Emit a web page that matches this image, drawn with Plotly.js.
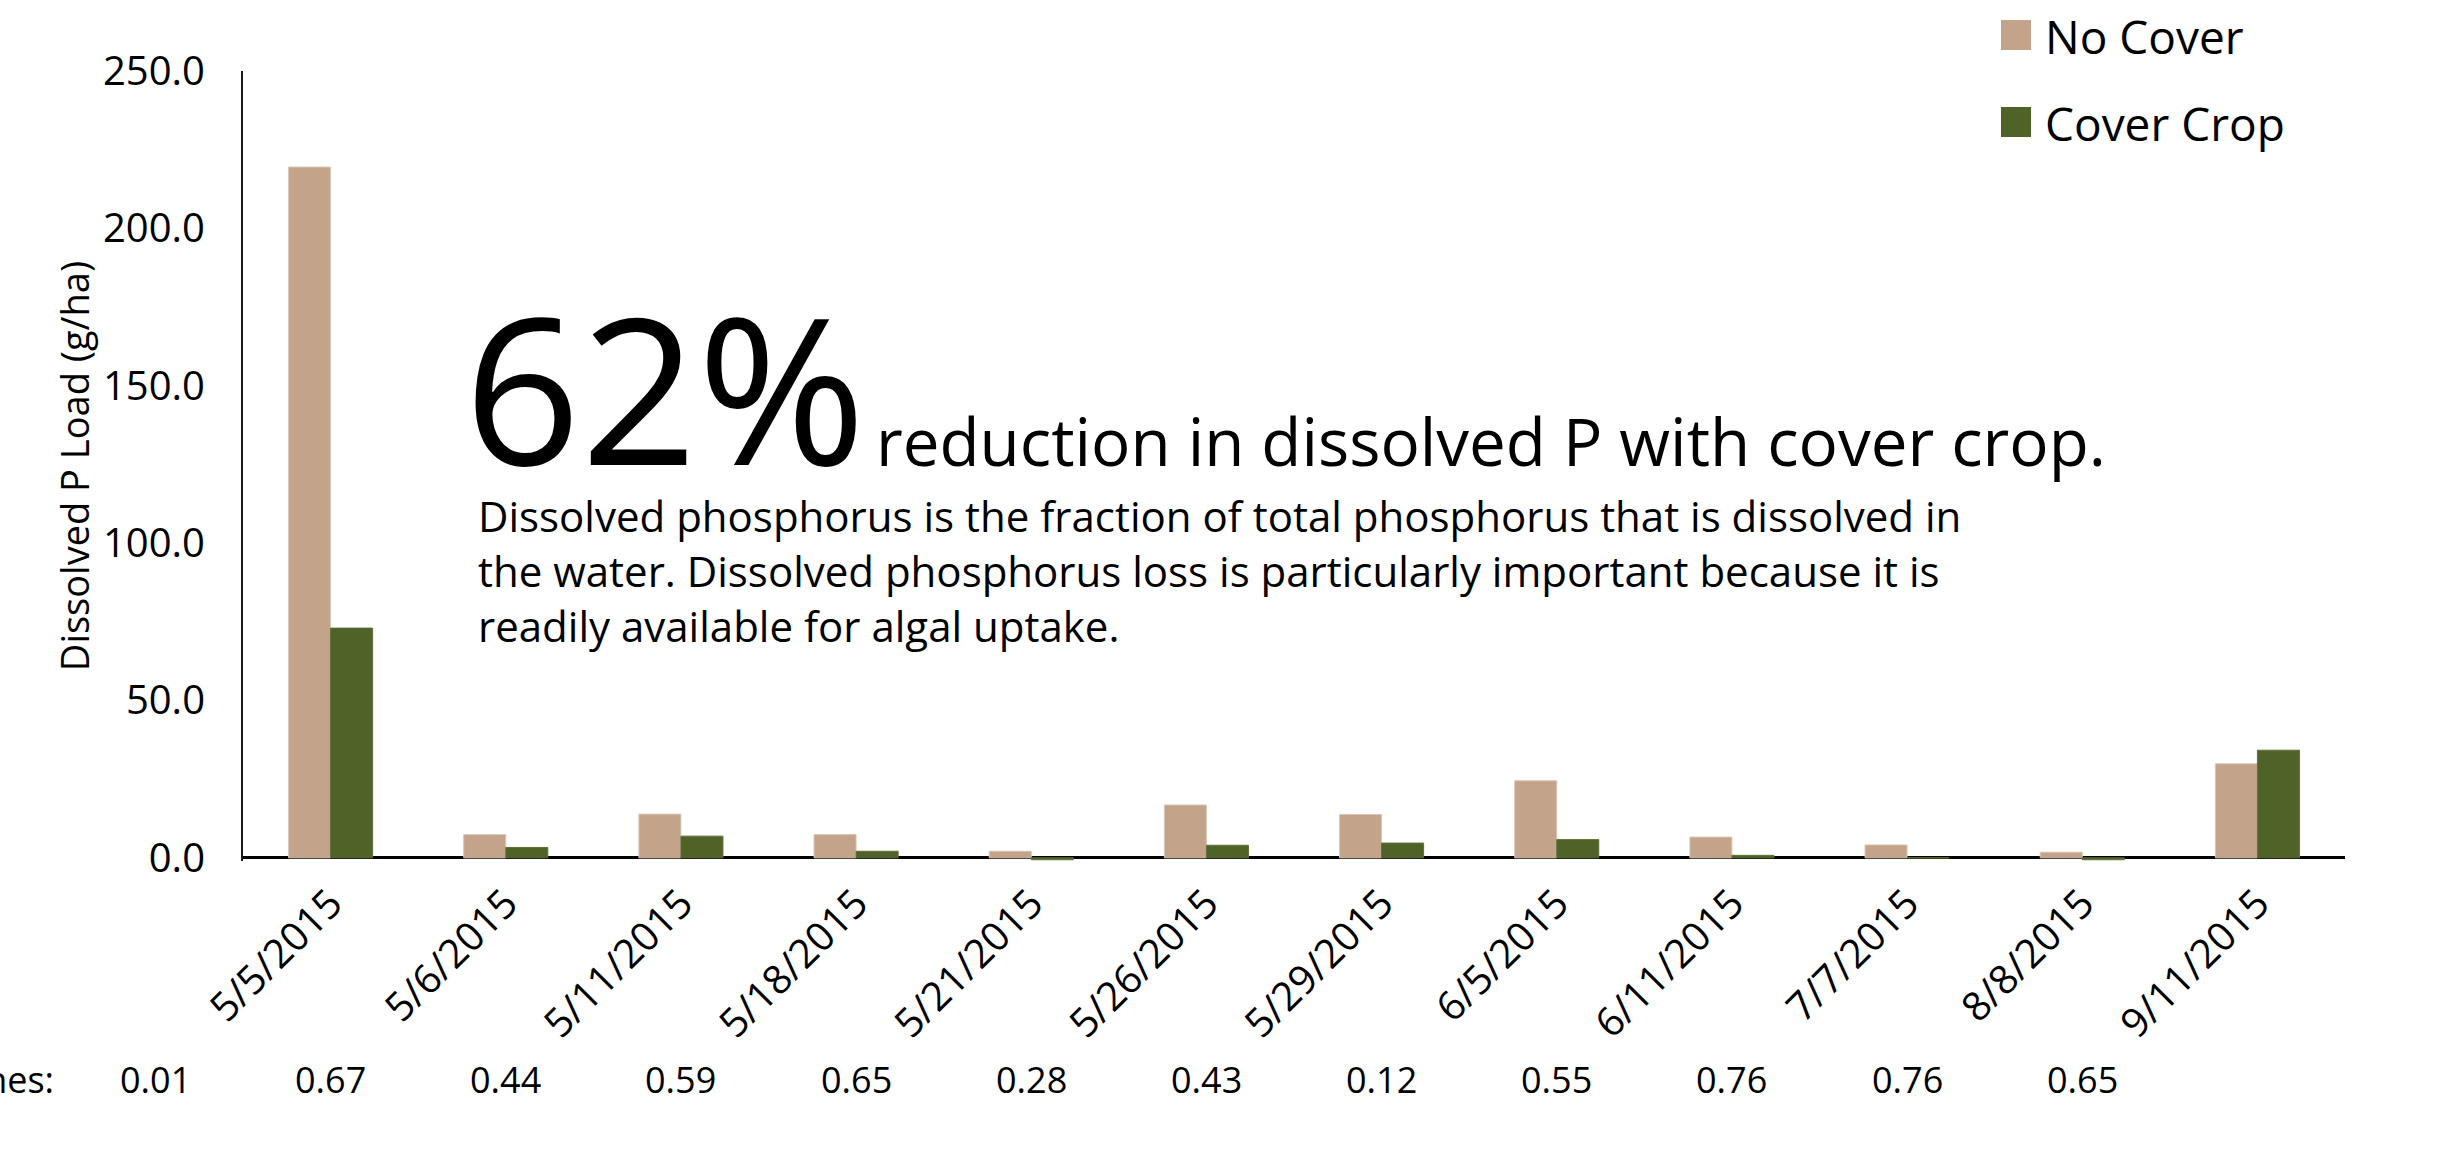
<!DOCTYPE html>
<html>
<head>
<meta charset="utf-8">
<script src="https://cdn.plot.ly/plotly-3.0.1.min.js"></script>
<style>
  html, body { margin: 0; padding: 0; background: #ffffff; }
  #chart { width: 2459px; height: 1150px; }
</style>
</head>
<body>
<div id="chart"></div>
<script>
// Storm event dates
const eventDates = ['5/5/2015', '5/6/2015', '5/11/2015', '5/18/2015', '5/21/2015', '5/26/2015',
                    '5/29/2015', '6/5/2015', '6/11/2015', '7/7/2015', '8/8/2015', '9/11/2015'];

// Dissolved P load per event (g/ha)
const noCoverLoad   = [219.5, 7.4, 13.9, 7.4, 2.1, 16.8, 13.8, 24.5, 6.6, 4.1, 1.8, 29.9];
const coverCropLoad = [73.0, 3.3, 6.9, 2.1, -0.6, 4.0, 4.7, 5.8, 0.8, 0.0, -0.6, 34.2];

const seriesNames  = ['No Cover', 'Cover Crop'];
const seriesColors = ['#C3A48B', '#4F6228'];

// Event depths row printed under the dates (first value sits one slot left of the first date)
const depthLabel  = 'Rain inches:';
const depthValues = ['0.01', '0.67', '0.44', '0.59', '0.65', '0.28', '0.43', '0.12', '0.55', '0.76', '0.76', '0.65'];

const yTickValues = [0, 50, 100, 150, 200, 250];

const headline    = '62%';
const headlineSub = 'reduction in dissolved P with cover crop.';
const noteLines   = [
  'Dissolved phosphorus is the fraction of total phosphorus that is dissolved in',
  'the water. Dissolved phosphorus loss is particularly important because it is',
  'readily available for algal uptake.'
];

// ---- layout geometry (pixels) ----
const W = 2459, H = 1150;
const M = { l: 243, r: 114, t: 71, b: 289 };
const plotW = W - M.l - M.r, plotH = H - M.t - M.b;
const px = x => (x - M.l) / plotW;          // page x -> paper x
const py = y => (H - M.b - y) / plotH;      // page y -> paper y
const nCat = eventDates.length;
const slotX = k => (k + 0.5) / nCat;        // category slot centre in paper x

const FONT = '"Open Sans", Lato, sans-serif';

const traces = [
  {
    type: 'bar', name: seriesNames[0], x: eventDates, y: noCoverLoad,
    marker: { color: seriesColors[0], line: { color: '#D9C6B6', width: 1 } },
    showlegend: false
  },
  {
    type: 'bar', name: seriesNames[1], x: eventDates, y: coverCropLoad,
    marker: { color: seriesColors[1], line: { color: '#5E7038', width: 1 } },
    showlegend: false
  }
];

const annotations = [];
const shapes = [];

// headline
annotations.push({
  xref: 'paper', yref: 'paper', x: px(462), y: py(386), xanchor: 'left', yanchor: 'middle',
  text: headline, showarrow: false, font: { family: FONT, size: 204, color: '#000' }
});
annotations.push({
  xref: 'paper', yref: 'paper', x: px(874), y: py(440), xanchor: 'left', yanchor: 'middle',
  text: headlineSub, showarrow: false, font: { family: FONT, size: 65.5, color: '#000' }
});
// explanatory note, one annotation per line
const noteBaselines = [530, 585, 640];
noteLines.forEach((line, i) => {
  annotations.push({
    xref: 'paper', yref: 'paper', x: px(476), y: py(noteBaselines[i] - 15), xanchor: 'left', yanchor: 'middle',
    text: line, showarrow: false, font: { family: FONT, size: 42, color: '#000' }
  });
});

// depth row
annotations.push({
  xref: 'paper', yref: 'paper', x: px(56), y: py(1079), xanchor: 'right', yanchor: 'middle',
  text: depthLabel, showarrow: false, font: { family: FONT, size: 36, color: '#000' }
});
depthValues.forEach((v, i) => {
  annotations.push({
    xref: 'paper', yref: 'paper', x: slotX(i - 1), y: py(1079), xanchor: 'center', yanchor: 'middle',
    text: v, showarrow: false, font: { family: FONT, size: 36, color: '#000' }
  });
});

// legend drawn as swatches + labels
const legendRows = [35, 122];
seriesNames.forEach((name, i) => {
  const cy = legendRows[i];
  shapes.push({
    type: 'rect', xref: 'paper', yref: 'paper',
    x0: px(2001), x1: px(2031), y0: py(cy - 15), y1: py(cy + 15),
    fillcolor: seriesColors[i], line: { width: 0 }
  });
  annotations.push({
    xref: 'paper', yref: 'paper', x: px(2043), y: py(cy + 1), xanchor: 'left', yanchor: 'middle',
    text: name, showarrow: false, font: { family: FONT, size: 46, color: '#000' }
  });
});

const layout = {
  width: W, height: H,
  margin: M,
  paper_bgcolor: '#ffffff', plot_bgcolor: '#ffffff',
  font: { family: FONT, color: '#000' },
  barmode: 'group', bargap: 0.52, bargroupgap: 0,
  showlegend: false,
  xaxis: {
    type: 'category',
    range: [-0.5, nCat - 0.5],
    showline: false, showgrid: false, zeroline: false,
    ticks: '', tickangle: -45,
    tickfont: { family: FONT, size: 40, color: '#000' },
    ticklabelstandoff: 10
  },
  yaxis: {
    range: [-1, 250],
    tickvals: yTickValues, tickformat: '.1f',
    showline: true, linecolor: '#1a1a1a', linewidth: 2,
    showgrid: false,
    zeroline: true, zerolinecolor: '#000', zerolinewidth: 3,
    ticks: '',
    tickfont: { family: FONT, size: 40, color: '#000' },
    ticklabelstandoff: 28,
    title: { text: 'Dissolved P Load (g/ha)', font: { family: FONT, size: 38, color: '#000' }, standoff: 2 }
  },
  annotations: annotations,
  shapes: shapes
};

Plotly.newPlot('chart', traces, layout, { displayModeBar: false, staticPlot: true });
</script>
</body>
</html>
